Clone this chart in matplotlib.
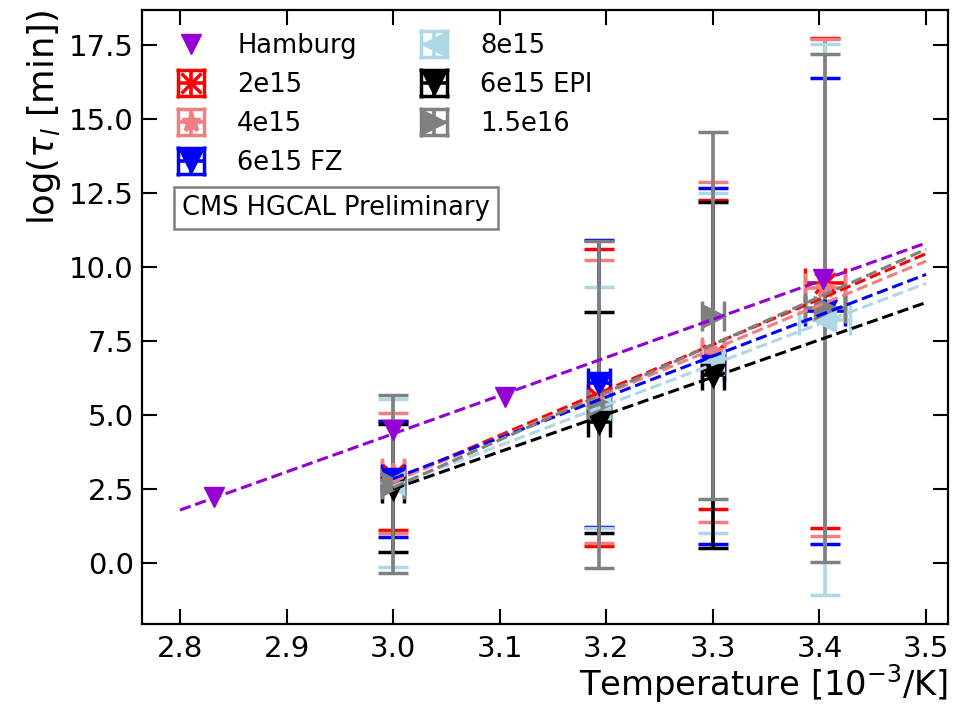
import matplotlib
matplotlib.use("Agg")
import matplotlib.pyplot as plt

plt.rcParams["font.family"] = ["DejaVu Sans"]
plt.rcParams["mathtext.fontset"] = "dejavusans"

# Hamburg model points and its fit line
hamburg_x = [2.832, 3.0, 3.105, 3.403]
hamburg_y = [2.23, 4.5, 5.6, 9.6]
hamburg_fit_x = [2.8, 3.5]
hamburg_fit_y = [1.79, 10.81]

# Measured series (inverse temperature in 1e-3/K, log of annealing time)
labels = ["2e15", "4e15", "6e15 FZ", "8e15", "6e15 EPI", "1.5e16"]
colors = ["red", "lightcoral", "blue", "lightblue", "black", "gray"]
markers = ["x", "*", "v", "<", "v", ">"]

x_2e15 = [3.0, 3.193, 3.3, 3.405]
y_2e15 = [2.97, 5.58, 7.04, 9.45]
xerr_2e15 = [0.01, 0.01, 0.01, 0.019]
yerr_2e15 = [1.84, 5.02, 5.23, 8.27]

x_4e15 = [3.0, 3.193, 3.3, 3.405]
y_4e15 = [3.03, 5.47, 7.14, 9.3]
xerr_4e15 = [0.01, 0.01, 0.01, 0.019]
yerr_4e15 = [2.03, 4.78, 5.74, 8.4]

x_6e15fz = [3.0, 3.193, 3.3, 3.405]
y_6e15fz = [2.85, 6.07, 6.66, 8.53]
xerr_6e15fz = [0.01, 0.01, 0.01, 0.019]
yerr_6e15fz = [1.96, 4.84, 6.02, 7.87]

x_8e15 = [3.0, 3.193, 3.3, 3.405]
y_8e15 = [2.71, 5.25, 6.75, 8.22]
xerr_8e15 = [0.01, 0.01, 0.01, 0.024]
yerr_8e15 = [2.83, 4.06, 5.75, 9.3]

x_6e15epi = [3.0, 3.193, 3.3]
y_6e15epi = [2.54, 4.75, 6.34]
xerr_6e15epi = [0.01, 0.01, 0.01]
yerr_6e15epi = [2.16, 3.73, 5.84]

x_15e16 = [3.0, 3.193, 3.3, 3.405]
y_15e16 = [2.68, 5.36, 8.36, 8.6]
xerr_15e16 = [0.01, 0.01, 0.01, 0.019]
yerr_15e16 = [3.0, 5.53, 6.21, 8.58]

# Fit lines of each measured series, evaluated at the range ends
fit_x = [3.0, 3.5]
fit_2e15 = [2.78, 10.45]
fit_4e15 = [2.75, 10.2]
fit_6e15fz = [2.85, 9.75]
fit_8e15 = [2.6, 9.45]
fit_6e15epi = [2.5, 8.8]
fit_15e16 = [2.55, 10.6]

series = [
    (x_2e15, y_2e15, xerr_2e15, yerr_2e15, fit_2e15),
    (x_4e15, y_4e15, xerr_4e15, yerr_4e15, fit_4e15),
    (x_6e15fz, y_6e15fz, xerr_6e15fz, yerr_6e15fz, fit_6e15fz),
    (x_8e15, y_8e15, xerr_8e15, yerr_8e15, fit_8e15),
    (x_6e15epi, y_6e15epi, xerr_6e15epi, yerr_6e15epi, fit_6e15epi),
    (x_15e16, y_15e16, xerr_15e16, yerr_15e16, fit_15e16),
]

fig = plt.figure(figsize=(9.61, 7.06), dpi=100)
ax = fig.add_axes([0.1478, 0.1161, 0.8387, 0.8697])

handles = []
for (xs, ys, xe, ye, fit), lab, col, mk in zip(series, labels, colors, markers):
    h = ax.errorbar(xs, ys, xerr=xe, yerr=ye, fmt=mk, color=col, ms=14,
                    mew=2.5, elinewidth=2.6, capsize=10.5, capthick=2.6,
                    label=lab, zorder=2)
    handles.append(h)

for (xs, ys, xe, ye, fit), col in zip(series, colors):
    ax.plot(fit_x, fit, ls="--", color=col, lw=2.2, zorder=3)

ax.plot(hamburg_fit_x, hamburg_fit_y, ls="--", color="darkviolet", lw=2.2,
        zorder=3)
hh, = ax.plot(hamburg_x, hamburg_y, "v", color="darkviolet", ms=14,
              ls="none", label="Hamburg", zorder=4)

ax.set_xlim(2.7644, 3.5206)
ax.set_ylim(-2.06, 18.68)
ax.set_xticks([2.8, 2.9, 3.0, 3.1, 3.2, 3.3, 3.4, 3.5])
ax.set_yticks([0.0, 2.5, 5.0, 7.5, 10.0, 12.5, 15.0, 17.5])

ax.tick_params(direction="in", top=True, right=True, length=11, width=1.5,
               labelsize=21)
ax.tick_params(axis="y", pad=6)
ax.tick_params(axis="x", pad=8)
for sp in ax.spines.values():
    sp.set_linewidth(1.6)

ax.set_xlabel(r"Temperature [$10^{-3}$/K]", fontsize=24.3, loc="right",
              labelpad=-1)
ax.set_ylabel(r"log($\tau_l$ [min])", fontsize=25.5, loc="top", labelpad=4)

ax.legend([hh] + handles, ["Hamburg"] + labels, loc="upper left", ncol=2,
          frameon=False, fontsize=18.5, labelspacing=0.5,
          columnspacing=2.0, handletextpad=0.8)

ax.text(0.0496, 0.6775, "CMS HGCAL Preliminary", transform=ax.transAxes,
        fontsize=18.5, va="center", ha="left",
        bbox=dict(boxstyle="square,pad=0.3", facecolor="white",
                  edgecolor="gray", linewidth=1.8))

fig.savefig("out.png", dpi=100)
